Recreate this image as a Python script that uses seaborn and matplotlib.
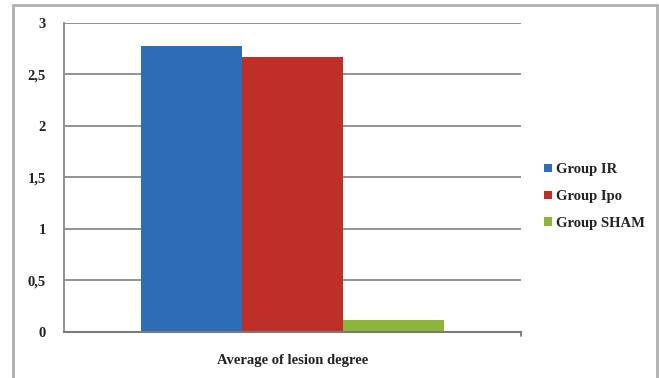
import matplotlib
matplotlib.use("Agg")
import matplotlib.pyplot as plt
import seaborn as sns
import pandas as pd
from matplotlib.lines import Line2D
from matplotlib.patches import Patch

# Values
categories = ["Average of lesion degree"]
groups = ["Group IR", "Group Ipo", "Group SHAM"]
values = [2.77, 2.67, 0.115]
colors = ["#2C6DB6", "#BD2F27", "#8DB53C"]
yticks = [0, 0.5, 1, 1.5, 2, 2.5, 3]
ytick_labels = ["0", "0,5", "1", "1,5", "2", "2,5", "3"]

df = pd.DataFrame({
    "category": categories * len(groups),
    "group": groups,
    "value": values,
})

sns.set_style("white")
plt.rcParams["font.family"] = ["Liberation Serif", "DejaVu Serif"]

fig = plt.figure(figsize=(6.59, 3.78), dpi=100)
ax = fig.add_axes([0.097, 0.122, 0.694, 0.818])

sns.barplot(data=df, x="category", y="value", hue="group",
            palette=colors, width=0.663, saturation=1, ax=ax,
            edgecolor="none", linewidth=0)

ax.set_ylim(0, 3)
ax.set_xlim(-0.5, 0.5)
ax.set_yticks(yticks)
ax.set_yticklabels(ytick_labels, fontsize=10.5, fontweight="bold", color="#222222")
ax.tick_params(axis="y", length=4, width=1.2, color="#8a8a8a", pad=9)
ax.tick_params(axis="x", length=0, pad=16, labelsize=10.5, labelcolor="#222222")
for lab in ax.get_xticklabels():
    lab.set_fontweight("bold")
ax.set_xlabel("")
ax.set_ylabel("")

ax.yaxis.grid(True, color="#8a8a8a", linewidth=1.3)
ax.set_axisbelow(True)
for side in ["top", "right"]:
    ax.spines[side].set_visible(False)
ax.spines["left"].set_color("#8a8a8a")
ax.spines["left"].set_linewidth(1.3)
ax.spines["bottom"].set_color("#7a7a7a")
ax.spines["bottom"].set_linewidth(1.5)

# small end tick at the right of the category axis
ax.plot([0.5, 0.5], [0, -0.04], color="#7a7a7a", lw=1.3, clip_on=False,
        transform=ax.transData)

# legend
handles = [Patch(facecolor=c, edgecolor="none") for c in colors]
leg = fig.legend(handles, groups, loc="center left",
                 bbox_to_anchor=(0.805, 0.48), frameon=False,
                 prop={"family": ["Liberation Serif"], "size": 10.5, "weight": "bold"},
                 handlelength=0.55, handleheight=0.55, handletextpad=0.3,
                 labelspacing=0.95)
for t in leg.get_texts():
    t.set_color("#222222")
if ax.get_legend() is not None:
    ax.get_legend().remove()

# outer chart frame
frame_color = "#b0b0b0"
fig.add_artist(Line2D([0.020, 0.020], [0.0, 0.987], color=frame_color, lw=2,
                      transform=fig.transFigure))
fig.add_artist(Line2D([0.020, 0.997], [0.987, 0.987], color=frame_color, lw=2,
                      transform=fig.transFigure))
fig.add_artist(Line2D([0.997, 0.997], [0.0, 0.987], color=frame_color, lw=2,
                      transform=fig.transFigure))

fig.savefig("out.png", dpi=100)
